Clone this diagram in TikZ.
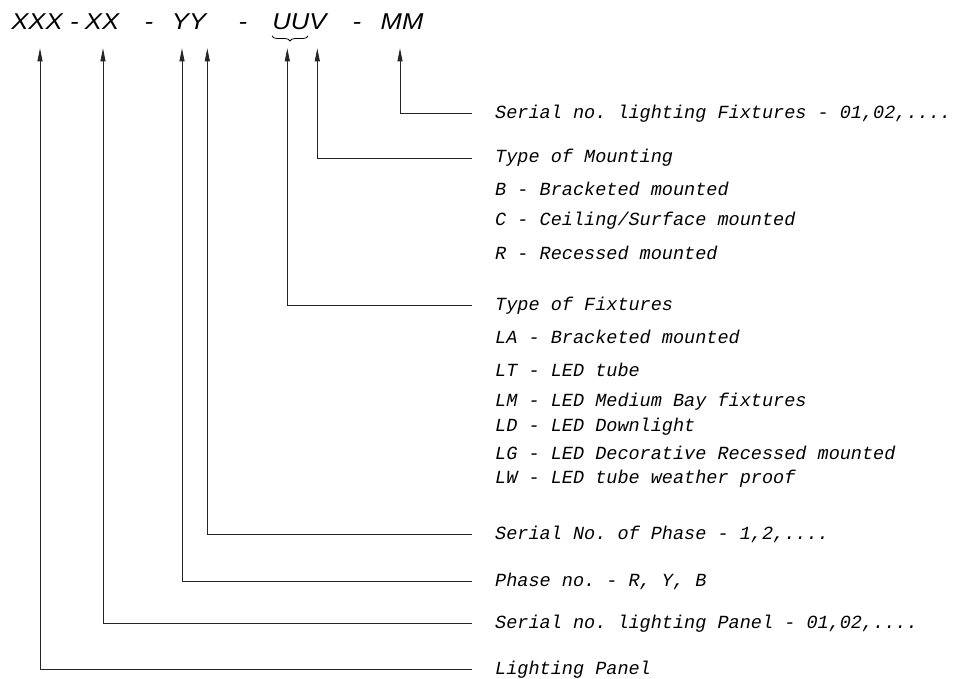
\documentclass[tikz,border=0pt]{standalone}
\usepackage{fontspec}
\newfontfamily\codefont[FakeStretch=1.12]{Liberation Sans}
\newfontfamily\notefont{Liberation Mono}
\frenchspacing
\usetikzlibrary{positioning,arrows.meta,decorations.pathreplacing}

\begin{document}
\begin{tikzpicture}[x=1bp,y=-1bp,
  code/.style={font=\codefont\itshape\fontsize{23}{24}\selectfont, inner sep=0pt, anchor=base},
  note/.style={font=\notefont\itshape\fontsize{18.6}{20}\selectfont, inner sep=0pt, anchor=west},
  pointer/.style={draw=black!85, line width=0.8bp, -{Triangle[length=13bp,width=5bp]}}]

\useasboundingbox (0,0) rectangle (963,679);

% Code string
\node[code] (hXXX) at (37,29.3) {XXX};
\node[code] (hd0)  at (74.5,29.3) {-};
\node[code] (hXX)  at (102,29.3) {XX};
\node[code] (hd1)  at (149,29.3) {-};
\node[code] (hYY)  at (189,29.3) {YY};
\node[code] (hd2)  at (243,29.3) {-};
\node[code] (hUUV) at (299.5,29.3) {UUV};
\node[code] (hd3)  at (357,29.3) {-};
\node[code] (hMM)  at (402,29.3) {MM};
\draw[decorate, decoration={brace, amplitude=5bp, mirror}, line width=0.8bp]
  (272,36) -- (308,36);

% Arrow tips
\coordinate (tXXX) at (40,48.3);
\coordinate (tXX)  at (103,48.3);
\coordinate (tY)   at (182,48.3);
\coordinate (tYY)  at (207.3,48.3);
\coordinate (tU)   at (287.3,48.3);
\coordinate (tV)   at (317.3,48.3);
\coordinate (tMM)  at (400,48.3);

% Labels
\node[note] (fx)  at (495,113.3) {Serial no. lighting Fixtures - 01,02,....};
\node[note] (mnt) at (495,158)   {Type of Mounting};
\foreach \y/\t [count=\i] in {189/{B - Bracketed mounted},
    221/{C - Ceiling/Surface mounted}, 252.5/{R - Recessed mounted}}
  \node[note] (mnt\i) at (495,\y) {\t};

\node[note] (fix) at (495,305.3) {Type of Fixtures};
\foreach \y/\t [count=\i] in {337/{LA - Bracketed mounted}, 370/{LT - LED tube},
    402/{LM - LED Medium Bay fixtures}, 427/{LD - LED Downlight},
    453/{LG - LED Decorative Recessed mounted}, 479/{LW - LED tube weather proof}}
  \node[note] (fix\i) at (495,\y) {\t};

\node[note] (sph) at (495,534.7) {Serial No. of Phase - 1,2,....};
\node[note] (ph)  at (495,581.5) {Phase no. - R, Y, B};
\node[note] (spn) at (495,623.3) {Serial no. lighting Panel - 01,02,....};
\node[note] (pnl) at (495,669.7) {Lighting Panel};

% Leaders
\draw[pointer] ([xshift=-23bp]fx.west)  -| (tMM);
\draw[pointer] ([xshift=-23bp]mnt.west) -| (tV);
\draw[pointer] ([xshift=-23bp]fix.west) -| (tU);
\draw[pointer] ([xshift=-23bp]sph.west) -| (tYY);
\draw[pointer] ([xshift=-23bp]ph.west)  -| (tY);
\draw[pointer] ([xshift=-23bp]spn.west) -| (tXX);
\draw[pointer] ([xshift=-23bp]pnl.west) -| (tXXX);

\end{tikzpicture}
\end{document}
